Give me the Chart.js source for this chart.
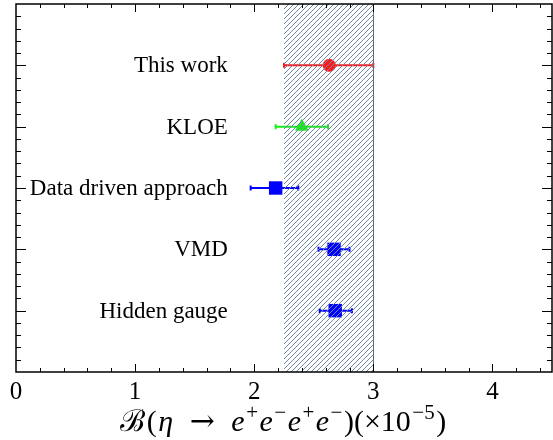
<!DOCTYPE html>
<html>
<head>
<meta charset="utf-8">
<script src="https://cdn.jsdelivr.net/npm/chart.js@4.4.1/dist/chart.umd.min.js"></script>
<style>
  html, body { margin: 0; padding: 0; background: #fff; }
  #wrap { width: 553px; height: 440px; }
</style>
</head>
<body>
<div id="wrap"><canvas id="graphique"></canvas></div>
<script>
// measurements, top to bottom
const labels = ['This work', 'KLOE', 'Data driven approach', 'VMD', 'Hidden gauge'];
const yPos = [5, 4, 3, 2, 1];
const central = [2.63, 2.40, 2.18, 2.67, 2.68];
const errLow = [2.25, 2.18, 1.97, 2.54, 2.55];
const errHigh = [3.00, 2.62, 2.37, 2.80, 2.82];
// hatched band (this work)
const band = [2.25, 3.00];
const xTickValues = [0, 1, 2, 3, 4];
const xTickLabels = ['0', '1', '2', '3', '4'];

const colors = ['#ff1a1a', '#1aee1a', '#0000ff', '#0000ff', '#0000ff'];
const styles = ['circle', 'triangle', 'rect', 'rect', 'rect'];
const radii = [6.5, 8, 9.5, 9.5, 9.5];

const serif = "'Liberation Serif', 'DejaVu Serif', serif";

// error bars drawn under the markers
const errorBars = {
  id: 'errorBars',
  beforeDatasetsDraw(chart) {
    const ctx = chart.ctx;
    const x = chart.scales.x, y = chart.scales.y;
    ctx.save();
    ctx.lineWidth = 2;
    for (let i = 0; i < central.length; i += 1) {
      const py = y.getPixelForValue(yPos[i]);
      const x1 = x.getPixelForValue(errLow[i]);
      const x2 = x.getPixelForValue(errHigh[i]);
      ctx.strokeStyle = colors[i];
      ctx.beginPath();
      ctx.moveTo(x1, py); ctx.lineTo(x2, py);
      ctx.moveTo(x1, py - 2.5); ctx.lineTo(x1, py + 2.5);
      ctx.moveTo(x2, py - 2.5); ctx.lineTo(x2, py + 2.5);
      ctx.stroke();
    }
    ctx.restore();
  }
};

// hatched band, on top of the markers like in the original
const hatch = {
  id: 'hatch',
  afterDatasetsDraw(chart) {
    const ctx = chart.ctx;
    const a = chart.chartArea;
    const x = chart.scales.x;
    const x1 = x.getPixelForValue(band[0]);
    const x2 = x.getPixelForValue(band[1]);
    const h = a.bottom - a.top;
    ctx.save();
    ctx.beginPath();
    ctx.rect(x1, a.top, x2 - x1, h);
    ctx.clip();
    ctx.strokeStyle = '#6f87a3';
    ctx.lineWidth = 1;
    ctx.beginPath();
    for (let sx = x1 - h; sx < x2; sx += 5) {
      ctx.moveTo(sx, a.bottom);
      ctx.lineTo(sx + h, a.top);
    }
    ctx.stroke();
    ctx.restore();
    ctx.save();
    ctx.strokeStyle = '#667';
    ctx.lineWidth = 1;
    ctx.beginPath();
    ctx.moveTo(Math.round(x2) + 0.5, a.top); ctx.lineTo(Math.round(x2) + 0.5, a.bottom);
    ctx.stroke();
    ctx.restore();
  }
};

// frame, inward ticks, tick labels, row labels and axis title
const cadre = {
  id: 'cadre',
  afterDraw(chart) {
    const ctx = chart.ctx;
    const a = chart.chartArea;
    const x = chart.scales.x, y = chart.scales.y;
    ctx.save();
    ctx.strokeStyle = '#000';
    ctx.lineWidth = 1.5;
    ctx.strokeRect(a.left, a.top, a.right - a.left, a.bottom - a.top);

    ctx.lineWidth = 1;
    ctx.beginPath();
    for (let k = 1; k <= 22; k += 1) {
      const v = k * 0.2;
      const px = Math.round(x.getPixelForValue(v)) + 0.5;
      const len = (k % 5 === 0) ? 8 : 4;
      ctx.moveTo(px, a.bottom); ctx.lineTo(px, a.bottom - len);
      ctx.moveTo(px, a.top); ctx.lineTo(px, a.top + len);
    }
    for (let k = 1; k < 30; k += 1) {
      const v = k * 0.2;
      const py = Math.round(y.getPixelForValue(v)) + 0.5;
      const len = (k % 5 === 0) ? 10 : 5;
      ctx.moveTo(a.left, py); ctx.lineTo(a.left + len, py);
      ctx.moveTo(a.right, py); ctx.lineTo(a.right - len, py);
    }
    ctx.stroke();

    ctx.fillStyle = '#000';
    // x tick labels
    ctx.font = `25px ${serif}`;
    ctx.textAlign = 'center';
    ctx.textBaseline = 'alphabetic';
    for (let i = 0; i < xTickValues.length; i += 1) {
      ctx.fillText(xTickLabels[i], x.getPixelForValue(xTickValues[i]), a.bottom + 27);
    }

    // row labels
    ctx.font = `23px ${serif}`;
    ctx.textAlign = 'right';
    ctx.textBaseline = 'middle';
    const lx = x.getPixelForValue(1.77) + 1;
    for (let i = 0; i < labels.length; i += 1) {
      ctx.fillText(labels[i], lx, y.getPixelForValue(yPos[i]) + 1);
    }

    // axis title with mixed styles
    const big = 30, small = 21, rise = 12;
    const parts = [
      ['ℬ', 'n', 0], ['(', 'n', 0], ['η', 'i', 0], ['\u2002→\u2002', 'a', 0],
      ['e', 'i', 0], ['+', 'n', 1], ['e', 'i', 0], ['−', 'n', 1],
      ['e', 'i', 0], ['+', 'n', 1], ['e', 'i', 0], ['−', 'n', 1],
      [')(×10', 'n', 0], ['−5', 'n', 1], [')', 'n', 0]
    ];
    const fontOf = (p) => {
      const size = p[2] ? small : big;
      if (p[1] === 'i') return `italic ${size}px ${serif}`;
      if (p[1] === 'a') return `${size}px 'DejaVu Serif', serif`;
      return `${size}px ${serif}`;
    };
    const gap = 1.5;
    let total = 0;
    for (const p of parts) { ctx.font = fontOf(p); total += ctx.measureText(p[0]).width + gap; }
    let cx = (a.left + a.right) / 2 - total / 2;
    const base = 431;
    ctx.textAlign = 'left';
    ctx.textBaseline = 'alphabetic';
    for (const p of parts) {
      ctx.font = fontOf(p);
      ctx.fillText(p[0], cx, base - (p[2] ? rise : 0));
      cx += ctx.measureText(p[0]).width + gap;
    }
    ctx.restore();
  }
};

const data = {
  datasets: [{
    data: central.map((v, i) => ({ x: v, y: yPos[i] })),
    pointStyle: styles,
    pointRadius: radii,
    pointHoverRadius: radii,
    backgroundColor: colors,
    borderColor: colors,
    borderWidth: 0,
    showLine: false
  }]
};

const config = {
  type: 'scatter',
  data: data,
  options: {
    responsive: true,
    maintainAspectRatio: false,
    animation: false,
    events: [],
    layout: { autoPadding: false, padding: { left: 16, right: 1, top: 4, bottom: 68 } },
    plugins: { legend: { display: false }, tooltip: { enabled: false } },
    scales: {
      x: { type: 'linear', display: false, min: 0, max: 4.5 },
      y: { type: 'linear', display: false, min: 0, max: 6 }
    }
  },
  plugins: [errorBars, hatch, cadre]
};

const graphique = new Chart(document.querySelector('#graphique'), config);
</script>
</body>
</html>
